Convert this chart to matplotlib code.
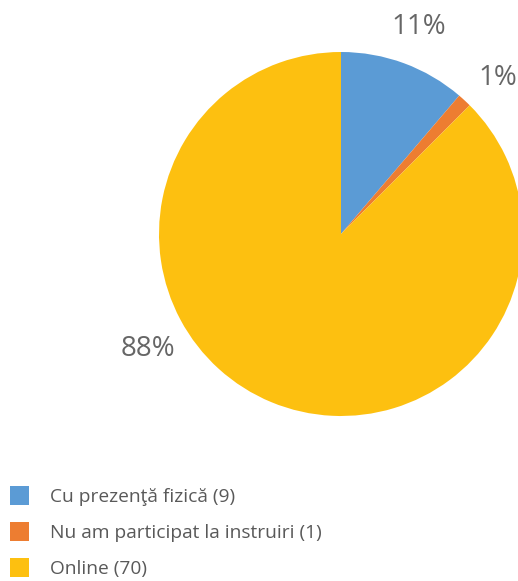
import numpy as np
import matplotlib
matplotlib.use("Agg")
import matplotlib.pyplot as plt

plt.rcParams['font.family'] = ['Open Sans', 'DejaVu Sans']

labels = ["Cu prezenţă fizică (9)", "Nu am participat la instruiri (1)", "Online (70)"]
values = [9, 1, 70]
colors = ["#5B9BD5", "#ED7D31", "#FDC010"]
text_color = "#666666"

W, H = 518, 581
fig = plt.figure(figsize=(W / 100, H / 100), dpi=100)
ax = fig.add_axes([0, 0, 1, 1])

cx, cy, r = 341, H - 234, 182
wedges, texts, autotexts = ax.pie(
    values, colors=colors, startangle=90, counterclock=False,
    center=(cx, cy), radius=r, autopct='%1.0f%%', pctdistance=1.215,
    wedgeprops=dict(linewidth=0), frame=True,
    textprops=dict(color=text_color, fontsize=20))
ax.set_xlim(0, W)
ax.set_ylim(0, H)
ax.set_aspect('equal')
ax.axis('off')

# best-fit style label placement (angle in degrees, distance in radii)
label_pos = [(69.5, 1.215), (44.8, 1.215), (210.8, 1.234)]
for t, (a, d) in zip(autotexts, label_pos):
    ang = np.deg2rad(a)
    t.set_position((cx + d * r * np.cos(ang), cy + d * r * np.sin(ang)))

leg = fig.legend(wedges, labels, loc='upper left',
                 bbox_to_anchor=(10 / W, 1 - 486 / H), frameon=False,
                 fontsize=13.75, handlelength=0.995, handleheight=1.154,
                 handletextpad=1.1, labelspacing=0.84, borderpad=0,
                 borderaxespad=0)
for t in leg.get_texts():
    t.set_color("#595959")

fig.savefig("out.png", dpi=100)
